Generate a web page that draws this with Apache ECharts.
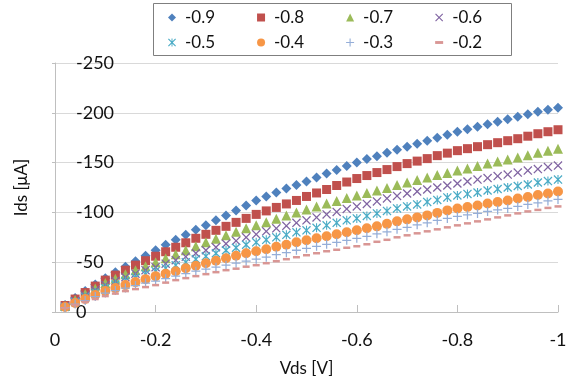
<!DOCTYPE html>
<html>
<head>
<meta charset="utf-8">
<script src="https://cdn.jsdelivr.net/npm/echarts@6/dist/echarts.min.js"></script>
<style>
  html, body { margin: 0; padding: 0; background: #fff; }
  #chart { width: 576px; height: 385px; }
</style>
</head>
<body>
<div id="chart"></div>
<script>
// Vds sweep, -0.02 V to -1.00 V in 0.02 V steps
const vds = Array.from({ length: 50 }, (_, i) => -((i + 1) * 2) / 100);

const seriesNames = ['-0.9', '-0.8', '-0.7', '-0.6', '-0.5', '-0.4', '-0.3', '-0.2'];

// Ids [uA] for each Vgs
const idsM09 = [-7, -14, -21, -27.5, -34, -40, -45.5, -51, -56.5, -62, -67.5, -72.5, -77.5, -82.5, -87, -92, -97, -102, -107, -112,
  -116, -120, -124, -127.5, -131, -135, -139, -142.5, -146.5, -150, -153.5, -156.5, -160, -163, -166, -169, -172, -175, -178, -181,
  -183.5, -186, -188.5, -191, -193.5, -196, -198.5, -201, -203, -205];
const idsM08 = [-6.5, -13, -19.5, -26, -32, -37, -42, -47, -51.5, -56, -60.5, -65, -69.5, -74, -78, -82, -86, -90, -94, -98,
  -101.5, -105, -108.5, -112, -116, -119.5, -123, -127, -130.5, -134, -137, -140, -143, -146, -149, -151.5, -154, -157, -159.5, -162,
  -164, -166, -168, -170, -172, -174, -176.5, -179, -181, -183];
const idsM07 = [-6, -12, -18, -23.5, -29, -33.5, -38, -42, -46, -50, -54, -58, -62, -66, -70, -73.5, -77, -80.5, -84, -87,
  -90, -93.5, -97, -100, -103, -106, -109, -111.5, -114.5, -117, -119.5, -122, -124.5, -127.5, -130, -132.5, -135, -137.5, -139.5, -142,
  -144, -146.5, -149, -151, -153, -155, -157.5, -160, -162, -164];
const idsM06 = [-5.5, -11, -16.5, -22, -27, -31, -35, -38.5, -42, -45, -48.5, -52, -55.5, -59, -62, -65, -68.5, -71.5, -75, -78,
  -81, -84, -86.5, -89.5, -92, -95, -98, -100.5, -103.5, -106, -108.5, -111, -114, -116.5, -119, -121, -123, -125, -127, -129,
  -131, -133, -134.5, -136.5, -138, -140, -142, -143.5, -145.5, -147];
const idsM05 = [-5, -10, -15, -19.5, -24, -27.5, -31, -34.5, -38, -41, -44, -47, -50, -53, -56, -59, -62, -64.5, -67.5, -70,
  -72.5, -75, -77.5, -80, -82, -84.5, -87, -89.5, -92, -94, -96.5, -99, -101.5, -104, -106, -108, -110.5, -112.5, -115, -117,
  -118.5, -120, -122, -123.5, -125, -126.5, -128, -130, -131.5, -133];
const idsM04 = [-5, -9, -13, -17, -21, -24, -27, -30, -33, -36, -38.5, -41, -44, -46.5, -49, -51.5, -54, -56.5, -59, -61,
  -63, -65.5, -67.5, -70, -72, -74, -76, -78, -80, -82, -84, -86, -88.5, -91, -93, -95, -97, -99.5, -102, -104,
  -105.5, -107, -109, -110.5, -112, -114, -115.5, -117.5, -119, -121];
const idsM03 = [-4.5, -8, -11.5, -15.5, -19, -21.5, -24, -26.5, -29, -31, -33.5, -36, -38.5, -41, -43, -45, -47, -49, -51, -53,
  -55, -57.5, -59.5, -62, -64, -66, -68, -70, -72, -74, -76, -78.5, -80.5, -83, -85, -87.5, -89.5, -92, -94, -96,
  -97.5, -99, -101, -102.5, -104, -106, -108, -109.5, -111.5, -113];
const idsM02 = [-4, -7, -10, -13, -16, -18.5, -21, -23, -25, -27, -29.5, -32, -34, -36, -38, -40, -42, -43.5, -45.5, -47,
  -49, -51, -53, -55, -57, -59, -61, -62.5, -64.5, -66, -68, -70.5, -72.5, -75, -77, -79, -81, -83, -85, -87,
  -89, -91, -93, -95, -97, -99, -101, -102.5, -104.5, -106];

const xTicks = { min: -1, max: 0, step: 0.2 };
const yTicks = { min: -250, max: 0, step: 50 };

const seriesData = [idsM09, idsM08, idsM07, idsM06, idsM05, idsM04, idsM03, idsM02];

// marker look per series (Excel-ish)
const X_PATH = 'path://M0,1 L1,0 L5,4 L9,0 L10,1 L6,5 L10,9 L9,10 L5,6 L1,10 L0,9 L4,5 Z';
const STAR_PATH = 'path://M0,1 L1,0 L5,4 L9,0 L10,1 L6,5 L10,9 L9,10 L5,6 L1,10 L0,9 L4,5 Z M4.4,0 L5.6,0 L5.6,10 L4.4,10 Z';
const PLUS_PATH = 'path://M4.3,0 L5.7,0 L5.7,4.3 L10,4.3 L10,5.7 L5.7,5.7 L5.7,10 L4.3,10 L4.3,5.7 L0,5.7 L0,4.3 L4.3,4.3 Z';
const DASH_PATH = 'path://M0,0 L7,0 L7,2.5 L0,2.5 Z';
const markers = [
  { symbol: 'diamond', size: 10, color: '#4F81BD', icon: 'diamond' },
  { symbol: 'rect', size: 9, color: '#C0504D', icon: 'rect' },
  { symbol: 'triangle', size: 10, color: '#9BBB59', icon: 'triangle' },
  { symbol: X_PATH, size: 9, color: '#8064A2', icon: X_PATH },
  { symbol: STAR_PATH, size: 9, color: '#4BACC6', icon: STAR_PATH },
  { symbol: 'circle', size: 10, color: '#F79646', icon: 'circle' },
  { symbol: PLUS_PATH, size: 9, color: '#95AED8', icon: PLUS_PATH },
  { symbol: 'rect', size: [7, 2.5], color: '#D99694', icon: DASH_PATH },
];

const FONT = 'Lato, "Open Sans", sans-serif';

const chart = echarts.init(document.getElementById('chart'), null, { renderer: 'canvas' });

const series = seriesNames.map((name, k) => ({
  name,
  type: 'scatter',
  data: vds.map((v, i) => [v, seriesData[k][i]]),
  symbol: markers[k].symbol,
  symbolSize: markers[k].size,
  itemStyle: { color: markers[k].color, opacity: 1 },
  emphasis: { disabled: true },
  z: 2 + k,
}));

const legendItems = seriesNames.map((name, k) => ({ name, icon: markers[k].icon }));

const legendBase = {
  orient: 'horizontal',
  left: 168,
  itemWidth: 8,
  itemHeight: 8,
  itemGap: 42,
  padding: 0,
  selectedMode: false,
  textStyle: { fontFamily: FONT, fontSize: 17, color: '#111', padding: [0, 0, 0, 4] },
};

chart.setOption({
  backgroundColor: '#fff',
  animation: false,
  textStyle: { fontFamily: FONT },
  graphic: [{
    type: 'rect',
    shape: { x: 153.5, y: 3.5, width: 358, height: 52 },
    style: { fill: 'none', stroke: '#7f7f7f', lineWidth: 1 },
    z: 100,
  }],
  legend: [
    Object.assign({}, legendBase, { top: 9, data: legendItems.slice(0, 4) }),
    Object.assign({}, legendBase, { top: 34, data: legendItems.slice(4) }),
  ],
  grid: { left: 55, right: 18, top: 63, bottom: 73 },
  xAxis: {
    type: 'value',
    inverse: true,
    min: xTicks.min,
    max: xTicks.max,
    interval: xTicks.step,
    name: 'Vds [V]',
    nameLocation: 'middle',
    nameGap: 48,
    nameTextStyle: { fontFamily: FONT, fontSize: 17, color: '#111' },
    axisLine: { lineStyle: { color: '#bfbfbf', width: 1 } },
    axisTick: { show: true, inside: true, length: 7, lineStyle: { color: '#bfbfbf' } },
    axisLabel: {
      fontFamily: FONT, fontSize: 18, color: '#111', margin: 19,
      formatter: v => (Math.abs(v) < 1e-9 ? '0' : String(Math.round(v * 10) / 10)),
    },
    splitLine: { show: false },
  },
  yAxis: {
    type: 'value',
    inverse: true,
    min: yTicks.min,
    max: yTicks.max,
    interval: yTicks.step,
    name: 'Ids [μA]',
    nameLocation: 'middle',
    nameGap: 25,
    nameRotate: 90,
    nameTextStyle: { fontFamily: FONT, fontSize: 17, color: '#111' },
    axisLine: { show: true, lineStyle: { color: '#bfbfbf', width: 1 } },
    axisTick: { show: true, length: 3, lineStyle: { color: '#bfbfbf' } },
    axisLabel: { inside: true, margin: 21, fontFamily: FONT, fontSize: 18, color: '#111' },
    splitLine: { show: true, lineStyle: { color: '#d9d9d9', width: 1 } },
  },
  series,
});
</script>
</body>
</html>
